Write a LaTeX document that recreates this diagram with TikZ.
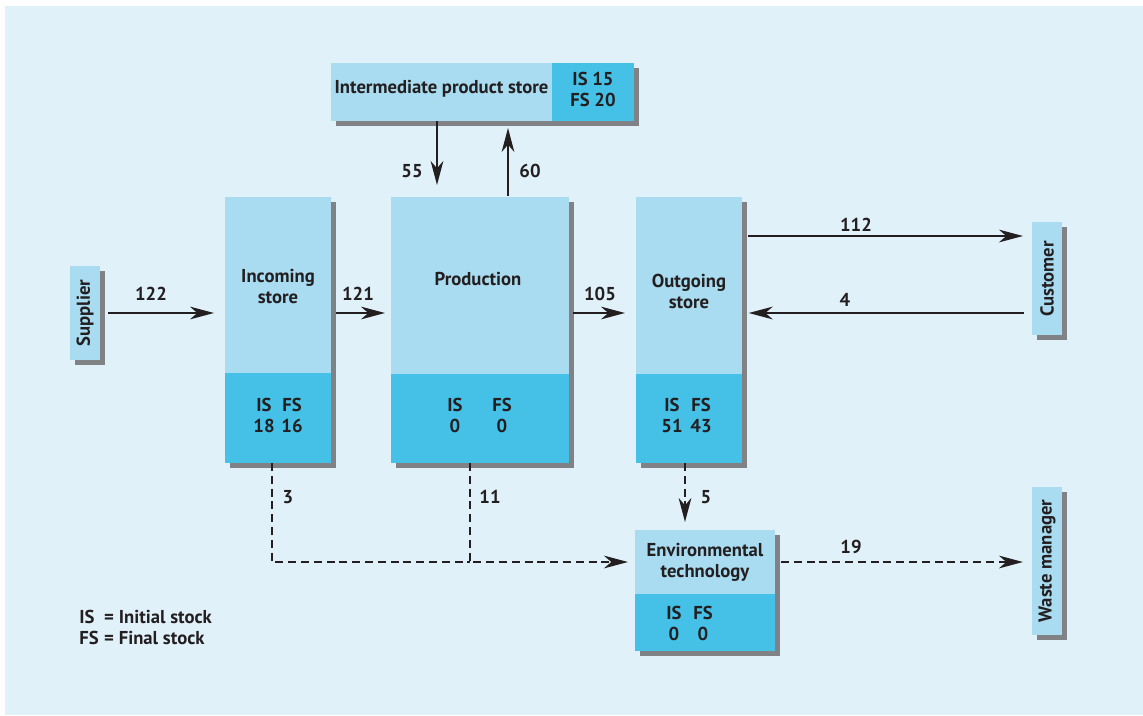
\documentclass[tikz,border=0pt]{standalone}
\usepackage{fontspec}
\setmainfont{PT Sans}
\usetikzlibrary{arrows.meta,shadows}

\definecolor{bgc}{HTML}{E1F1FA}
\definecolor{lightc}{HTML}{A9DCF1}
\definecolor{darkc}{HTML}{45C0E6}
\definecolor{shadowc}{HTML}{808285}
\definecolor{inkc}{HTML}{231F20}

\newcommand{\lblfont}{\bfseries\fontsize{14pt}{15.75pt}\selectfont}

\tikzset{
  boxsize/.style 2 args={minimum width=#1*0.75pt, minimum height=#2*0.75pt},
  box/.style={fill=lightc, inner sep=0pt, outer sep=0pt, anchor=north west,
    drop shadow={shadow xshift=4pt, shadow yshift=-4pt, fill=shadowc, opacity=1}},
  stockbox/.style={fill=darkc, inner sep=0pt, outer sep=0pt, anchor=north west},
  txt/.style={font=\lblfont, text=inkc, align=center, inner sep=0pt},
  flow/.style={draw=inkc, line width=1.75pt,
    -{Stealth[length=18pt, width=9.5pt, inset=5.5pt]}},
  wasteflow/.style={flow, line width=1.9pt, dash pattern=on 6pt off 3.6pt},
}

\begin{document}
\begin{tikzpicture}[x=0.75pt, y=-0.75pt]
  \useasboundingbox (0,0) rectangle (1143,715);
  \fill[bgc] (5,6) rectangle (1143,715);

  % reference lines for connector positions
  \coordinate (r112) at (0,236);
  \coordinate (rwaste) at (0,562);
  \coordinate (c55) at (437,0);
  \coordinate (c60) at (508,0);
  \coordinate (c3) at (272,0);
  \coordinate (c11) at (470,0);
  \coordinate (c5) at (685,0);

  % boxes
  \node[box, boxsize={30}{94}] (sup) at (70,266) {};
  \node[box, boxsize={106}{266}] (inc) at (225,197) {};
  \node[stockbox, boxsize={106}{90}] (incs) at (225,373) {};
  \node[box, boxsize={178}{266}] (prod) at (391,197) {};
  \node[stockbox, boxsize={178}{89}] (prods) at (391,374) {};
  \node[box, boxsize={106}{266}] (out) at (636,197) {};
  \node[stockbox, boxsize={106}{89}] (outs) at (636,374) {};
  \node[box, boxsize={30}{113}] (cust) at (1032,222) {};
  \node[box, boxsize={303}{58}] (ips) at (331,63) {};
  \node[stockbox, boxsize={82}{58}] (ipss) at (552,63) {};
  \node[box, boxsize={140}{121}] (env) at (635,530) {};
  \node[stockbox, boxsize={140}{57}] (envs) at (635,594) {};
  \node[box, boxsize={30}{148}] (waste) at (1032,487) {};

  % box texts
  \node[txt, rotate=90] at (85,313) {Supplier};
  \node[txt, rotate=90] at (1047,279) {Customer};
  \node[txt, rotate=90] at (1047,561) {Waste manager};
  \node[txt] at (441.5,89) {Intermediate product store};
  \node[txt] at (593,89.5) {IS 15\\FS 20};
  \node[txt] at (278,286) {Incoming\\store};
  \node[txt] at (264,415) {IS\\18};
  \node[txt] at (292,415) {FS\\16};
  \node[txt] at (478,279) {Production};
  \node[txt] at (455,415) {IS\\0};
  \node[txt] at (502,415) {FS\\0};
  \node[txt] at (689,291) {Outgoing\\store};
  \node[txt] at (672,415) {IS\\51};
  \node[txt] at (701,415) {FS\\43};
  \node[txt] at (705,562) {Environmental\\technology};
  \node[txt] at (674,623) {IS\\0};
  \node[txt] at (703,623) {FS\\0};

  % material flows
  \draw[flow, shorten <=6pt, shorten >=8.25pt] (sup.east) -- (sup.east -| inc.west);
  \draw[flow, shorten <=3.75pt, shorten >=4.5pt] (inc.east |- sup.east) -- (prod.west |- sup.east);
  \draw[flow, shorten <=3pt, shorten >=8.25pt] (prod.east |- sup.east) -- (out.west |- sup.east);
  \draw[flow, shorten <=4.5pt, shorten >=6.75pt] (out.east |- r112) -- (cust.west |- r112);
  \draw[flow, shorten <=6pt, shorten >=5pt] (cust.west |- sup.east) -- (out.east |- sup.east);
  \draw[flow, shorten >=9pt] (ips.south -| c55) -- (prod.north -| c55);
  \draw[flow, shorten <=0.75pt, shorten >=5.25pt] (prod.north -| c60) -- (ips.south -| c60);

  % waste flows
  \draw[wasteflow, -] (incs.south -| c3) |- (c11 |- rwaste);
  \draw[wasteflow, shorten >=5.25pt] (prods.south -| c11) |- (env.west |- rwaste);
  \draw[wasteflow, shorten >=6pt] (outs.south -| c5) -- (env.north -| c5);
  \draw[wasteflow, shorten <=4.5pt, shorten >=6.75pt] (env.east |- rwaste) -- (waste.west |- rwaste);

  % flow quantities
  \node[txt] at (151,294) {122};
  \node[txt] at (358,294) {121};
  \node[txt] at (600,294) {105};
  \node[txt] at (856,225) {112};
  \node[txt] at (845,300) {4};
  \node[txt] at (412,171) {55};
  \node[txt] at (530,171) {60};
  \node[txt] at (288,497) {3};
  \node[txt] at (490,497) {11};
  \node[txt] at (706,497) {5};
  \node[txt] at (851,547) {19};

  % legend
  \node[txt, anchor=west] (legend) at (79,629.5)
    {\begin{tabular}{@{}l@{\hspace{0.3em}}l@{}}IS & = Initial stock\\FS & = Final stock\end{tabular}};
\end{tikzpicture}
\end{document}
